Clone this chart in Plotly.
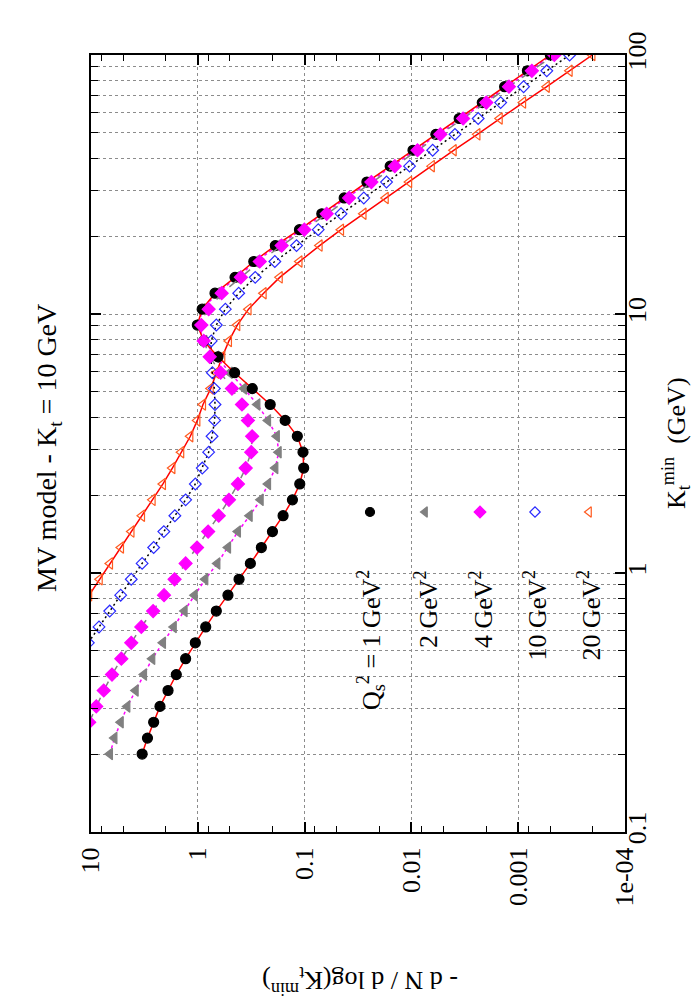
import plotly.graph_objects as go

# K_t^min grid (GeV), shared by all series
kt = [0.2, 0.2304, 0.2653, 0.3055, 0.3518, 0.4052, 0.4667, 0.5375, 0.619, 0.7129,
      0.821, 0.9457, 1.089, 1.254, 1.445, 1.664, 1.916, 2.207, 2.542, 2.928,
      3.372, 3.884, 4.473, 5.152, 5.934, 6.834, 7.871, 9.066, 10.44, 12.03,
      13.85, 15.95, 18.37, 21.16, 24.37, 28.06, 32.32, 37.23, 42.87, 49.38,
      56.87, 65.5, 75.44, 86.89, 100.0]

# - dN / dlog(K_t^min) for each Q_s^2
q1 = [3.32, 2.96, 2.59, 2.26, 1.90, 1.59, 1.30, 1.055, 0.843, 0.671,
      0.522, 0.411, 0.322, 0.254, 0.200, 0.159, 0.130, 0.111, 0.102, 0.1035,
      0.117, 0.152, 0.210, 0.309, 0.452, 0.647, 0.88, 1.01, 0.91, 0.690,
      0.448, 0.299, 0.188, 0.1117, 0.069, 0.0426, 0.0261, 0.0158, 0.00966, 0.0059,
      0.00357, 0.00217, 0.00134, 0.00082, 0.00050]
q2 = [6.65, 6.04, 5.27, 4.57, 3.82, 3.19, 2.67, 2.12, 1.68, 1.33,
      1.07, 0.851, 0.656, 0.521, 0.421, 0.327, 0.258, 0.220, 0.188, 0.175,
      0.182, 0.220, 0.277, 0.369, 0.503, 0.671, 0.87, 0.99, 0.90, 0.66,
      0.43, 0.285, 0.178, 0.106, 0.066, 0.0406, 0.0249, 0.0151, 0.0092, 0.00563,
      0.0034, 0.00207, 0.00127, 0.00078, 0.00048]
q4 = [10.4, 8.92, 7.60, 6.36, 5.20, 4.20, 3.38, 2.62,
      2.07, 1.65, 1.30, 1.017, 0.80, 0.637, 0.511, 0.421, 0.356, 0.316,
      0.310, 0.339, 0.386, 0.479, 0.611, 0.774, 0.88, 0.927, 0.791, 0.598,
      0.395, 0.263, 0.164, 0.1005, 0.0621, 0.0383, 0.0237, 0.0143, 0.00877, 0.00536,
      0.00328, 0.00199, 0.00122, 0.000745, 0.000459]
q10 = [10.6, 8.41, 6.68,
       5.27, 4.20, 3.32, 2.59, 2.08, 1.64, 1.30, 1.055, 0.908, 0.791,
       0.736, 0.695, 0.69, 0.70, 0.73, 0.76, 0.748, 0.671, 0.552, 0.414,
       0.290, 0.190, 0.119, 0.0745, 0.0456, 0.0279, 0.0171, 0.0104, 0.00632, 0.00391,
       0.00237, 0.00146, 0.00089, 0.00054, 0.00033]
q20 = [10.4, 8.29, 6.64, 5.24, 4.18, 3.33, 2.65, 2.12, 1.73, 1.43,
       1.175, 1.01, 0.894, 0.757, 0.671, 0.590, 0.511, 0.427, 0.335, 0.242,
       0.171, 0.1117, 0.0724, 0.0456, 0.0281, 0.0174, 0.0105, 0.00644, 0.00402, 0.00241,
       0.00149, 0.00090, 0.00054, 0.00033, 0.000202]

labels = ["Q<sub>s</sub><sup>2</sup> = 1 GeV<sup>2</sup>", "2 GeV<sup>2</sup>",
          "4 GeV<sup>2</sup>", "10 GeV<sup>2</sup>", "20 GeV<sup>2</sup>"]

FONT = "Liberation Serif"
W, H = 700, 1000
L, R, T, B = 83, 83, 47, 176          # plot frame in pixels
pw, ph = W - L - R, H - T - B

def px(x):  # pixel -> paper x
    return (x - L) / pw

def py(y):  # pixel -> paper y
    return (H - B - y) / ph

series = [
    # values, kt slice start, marker symbol, marker colour, size, line colour, dash
    (q20, 10, "triangle-left-open", "#ff5a1f", 10, "red", "solid"),
    (q10, 7, "diamond-open", "#2a2aff", 9, "black", "2px,3px"),
    (q2, 0, "triangle-left", "#808080", 10, "#ff00ff", "dot"),
    (q1, 0, "circle", "black", 10, "red", "solid"),
    (q4, 2, "diamond", "#ff00ff", 10, "#808080", "dash"),
]

fig = go.Figure()
for vals, s, sym, mcol, msz, lcol, dash in series:
    fig.add_trace(go.Scatter(
        x=vals, y=kt[s:], mode="lines+markers", showlegend=False,
        line=dict(color=lcol, width=1.5, dash=dash),
        marker=dict(symbol=sym, color=mcol, size=msz,
                    line=dict(color=mcol, width=1.2)),
    ))

# hand-made key (the picture is rotated, so plotly's legend cannot be used)
key_cols = [362, 417, 472, 527, 581]
key_order = [3, 2, 4, 1, 0]
for col, idx in zip(key_cols, key_order):
    _, _, sym, mcol, msz, _, _ = series[idx]
    fig.add_trace(go.Scatter(
        x=[px(col)], y=[py(504)], xaxis="x2", yaxis="y2", mode="markers",
        showlegend=False, cliponaxis=False,
        marker=dict(symbol=sym, color=mcol, size=msz - 1,
                    line=dict(color=mcol, width=1.2)),
    ))

annotations = []
for col, lab in zip(key_cols, labels):
    annotations.append(dict(
        text=lab, x=px(col + 1), y=py(560), xref="paper", yref="paper",
        xanchor="center", yanchor="top", textangle=-90, showarrow=False,
        font=dict(family=FONT, size=26, color="black")))

annotations += [
    dict(text="MV model - K<sub>t</sub> = 10 GeV", x=px(40), y=py(440),
         xref="paper", yref="paper", xanchor="center", yanchor="middle",
         textangle=-90, showarrow=False,
         font=dict(family=FONT, size=28, color="black")),
    dict(text="K<sub>t</sub><sup>min</sup>  (GeV)", x=px(668), y=py(435),
         xref="paper", yref="paper", xanchor="center", yanchor="middle",
         textangle=-90, showarrow=False,
         font=dict(family=FONT, size=26, color="black")),
    dict(text="- d N / d log(K<sub>t</sub><sup>min</sup>)", x=px(352), y=py(973),
         xref="paper", yref="paper", xanchor="center", yanchor="middle",
         textangle=180, showarrow=False,
         font=dict(family=FONT, size=26, color="black")),
]

val_ticks = [10, 1, 0.1, 0.01, 0.001, 0.0001]
val_text = ["10", "1", "0.1", "0.01", "0.001", "1e-04"]
val_minor = [m * d for d in (1, 0.1, 0.01, 0.001, 0.0001) for m in (2, 5, 8)]
kt_ticks = [0.1, 1, 10, 100]
kt_text = ["0.1", "1", "10", "100"]
kt_minor = [m * d for d in (0.1, 1, 10) for m in range(2, 10)]

grid = dict(gridcolor="#8c8c8c", griddash="dot", gridwidth=1)
axis_common = dict(
    type="log", showline=True, linecolor="black", linewidth=2, mirror="ticks",
    ticks="inside", ticklen=10, tickwidth=1.5, tickcolor="black",
    tickangle=-90, zeroline=False, showgrid=True,
    tickfont=dict(family=FONT, size=26, color="black"), **grid,
)

fig.update_layout(
    width=W, height=H,
    margin=dict(l=L, r=R, t=T, b=B),
    paper_bgcolor="white", plot_bgcolor="white",
    xaxis=dict(range=[1, -4], tickmode="array", tickvals=val_ticks, ticktext=val_text,
               ticklabelstandoff=3,
               minor=dict(tickmode="array", tickvals=val_minor, ticks="inside",
                          ticklen=6, tickwidth=1.2, tickcolor="black", showgrid=False),
               **axis_common),
    yaxis=dict(range=[-1, 2], side="right", tickmode="array", tickvals=kt_ticks,
               ticktext=kt_text, ticklabelstandoff=-12,
               minor=dict(tickmode="array", tickvals=kt_minor, ticks="inside",
                          ticklen=7, tickwidth=1.2, tickcolor="black", showgrid=True,
                          **grid),
               **axis_common),
    xaxis2=dict(overlaying="x", range=[0, 1], visible=False),
    yaxis2=dict(overlaying="y", range=[0, 1], visible=False),
    shapes=[dict(type="rect", xref="paper", yref="paper", x0=px(335), x1=1,
                 y0=0, y1=py(448), fillcolor="white", line_width=0, layer="between")],
    annotations=annotations,
)

fig.write_html("out.html")
